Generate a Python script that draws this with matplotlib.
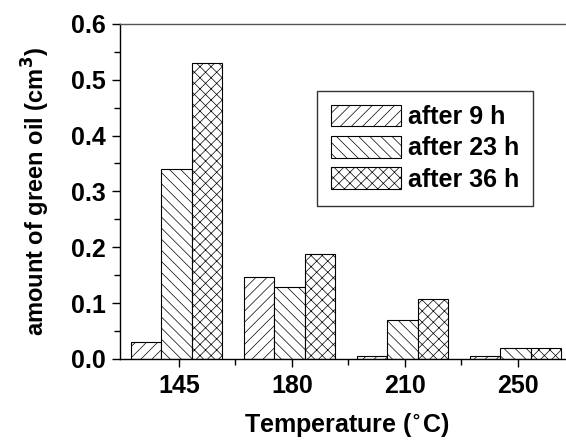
import matplotlib
matplotlib.use("Agg")
import matplotlib.pyplot as plt
import numpy as np
from matplotlib.ticker import MultipleLocator, FixedLocator, FormatStrFormatter

temperatures = ["145", "180", "210", "250"]
series_labels = ["after 9 h", "after 23 h", "after 36 h"]
after_9h = [0.03, 0.147, 0.005, 0.005]
after_23h = [0.34, 0.128, 0.07, 0.02]
after_36h = [0.53, 0.188, 0.107, 0.02]
HATCHES = ["///", "\\\\\\", "xxx"]

plt.rcParams.update({
    "font.family": ["Liberation Sans", "DejaVu Sans"],
    "font.weight": "bold",
    "hatch.linewidth": 0.5,
    "axes.linewidth": 1.0,
})

fig = plt.figure(figsize=(5.66, 4.43), dpi=100)
ax = fig.add_axes([0.212, 0.19, 0.803, 0.756])

x = np.arange(1, len(temperatures) + 1)
width = 0.27
for k, (vals, hatch, label) in enumerate(zip((after_9h, after_23h, after_36h), HATCHES, series_labels)):
    ax.bar(x + (k - 1) * width - 0.02, vals, width=width, color="white", edgecolor="black",
           linewidth=0.8, hatch=hatch, label=label)

ax.set_xlim(0.478, 4.5)
ax.set_ylim(0, 0.6)
ax.set_xticks(x)
ax.set_xticklabels(temperatures)
ax.xaxis.set_minor_locator(FixedLocator([1.5, 2.5, 3.5]))
ax.yaxis.set_major_locator(MultipleLocator(0.1))
ax.yaxis.set_minor_locator(MultipleLocator(0.05))
ax.yaxis.set_major_formatter(FormatStrFormatter("%.1f"))
ax.tick_params(which="major", direction="out", length=6, width=1, labelsize=18, pad=4)
ax.tick_params(which="minor", direction="out", length=4, width=1)
ax.tick_params(axis="x", pad=5)
ax.spines["right"].set_visible(False)
ax.spines["top"].set_color("#555555")

ax.set_xlabel("Temperature ($^{\\circ}$C)", fontsize=18, fontweight="bold", labelpad=9)
ax.set_ylabel("amount of green oil (cm$^{3}$)", fontsize=17, fontweight="bold", labelpad=14)

leg = ax.legend(loc="upper left", bbox_to_anchor=(0.433, 0.8), fontsize=18,
                frameon=True, fancybox=False, edgecolor="black", handlelength=2.8,
                handleheight=0.95, handletextpad=0.3, labelspacing=0.28, borderpad=0.55,
                borderaxespad=0)
leg.get_frame().set_linewidth(1.0)
for t in leg.get_texts():
    t.set_fontweight("bold")

fig.savefig("out.png", dpi=100)
